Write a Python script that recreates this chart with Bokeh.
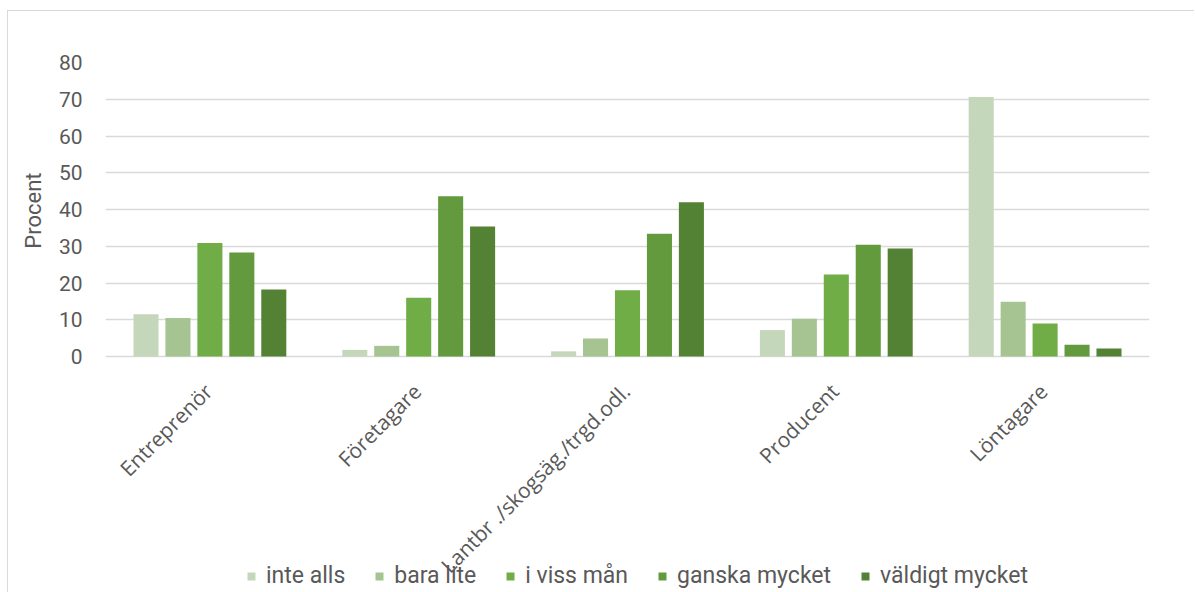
import math
from bokeh.plotting import figure
from bokeh.models import (ColumnDataSource, Legend, LegendItem, Range1d, FixedTicker, Title)
from bokeh.core.properties import value
from bokeh.transform import dodge
from bokeh.embed import file_html
from bokeh.resources import INLINE

categories = ["Entreprenör", "Företagare", "Lantbr ./skogsäg./trgd.odl.", "Producent", "Löntagare"]
series_names = ["inte alls", "bara lite", "i viss mån", "ganska mycket", "väldigt mycket"]
inte_alls = [11.5, 1.8, 1.4, 7.2, 70.6]
bara_lite = [10.5, 2.9, 4.9, 10.3, 14.9]
i_viss_man = [30.9, 16.0, 18.0, 22.3, 9.0]
ganska_mycket = [28.3, 43.6, 33.4, 30.4, 3.2]
valdigt_mycket = [18.2, 35.4, 42.0, 29.4, 2.2]
colors = ["#c5d7bb", "#a5c491", "#70ad47", "#639a3e", "#548235"]
y_ticks = [0, 10, 20, 30, 40, 50, 60, 70, 80]
y_title = "Procent"

ncat = len(categories)
source = ColumnDataSource(dict(cat=categories, xc=[i + 0.5 for i in range(ncat)],
                               s0=inte_alls, s1=bara_lite, s2=i_viss_man,
                               s3=ganska_mycket, s4=valdigt_mycket))

# the value area (0..80) is 294 px tall; the frame continues below it to hold
# the slanted category labels and the legend, which overlap as in the original
plot_px = 294
frame_h = 530
ymax = 80
px_per_unit_y = plot_px / ymax
y_start = -(frame_h - plot_px) / px_per_unit_y

p = figure(x_range=Range1d(0, ncat), y_range=Range1d(y_start, ymax),
           frame_width=1044, frame_height=frame_h, min_border_left=95, min_border_top=51,
           min_border_right=45, min_border_bottom=0,
           output_backend="svg", toolbar_location=None)
p.styles = {"margin-left": "7px", "margin-top": "10px",
            "border-left": "1px solid #d9d9d9", "border-top": "1px solid #d9d9d9"}

step = 0.153
items = []
for i, name in enumerate(series_names):
    r = p.vbar(x=dodge("xc", (i - 2) * step), top=f"s{i}", width=0.12,
               source=source, fill_color=colors[i], line_color=None)
    items.append(LegendItem(label=name, renderers=[r]))

# slanted category labels
p.text(x=dodge("xc", -0.055), y=-21 / px_per_unit_y, text="cat", source=source,
       angle=math.pi / 4, text_align="right", text_baseline="top",
       text_font=value("Open Sans"), text_font_size="21px", text_color="#595959")

p.outline_line_color = None
p.xgrid.grid_line_color = None
p.xaxis.visible = False
p.ygrid.grid_line_color = "#d9d9d9"
p.ygrid.grid_line_width = 1.4

p.yaxis.ticker = FixedTicker(ticks=y_ticks)
p.yaxis.bounds = (0, ymax)
p.yaxis.axis_line_color = None
p.yaxis.major_tick_line_color = None
p.yaxis.minor_tick_line_color = None
p.yaxis.major_label_text_font = "Roboto"
p.yaxis.major_label_text_font_size = "21px"
p.yaxis.major_label_text_color = "#595959"
p.yaxis.major_label_standoff = 17

# axis title placed beside the 0..80 value area
p.add_layout(Title(text=y_title, align="right", offset=110,
                   standoff=20, text_font="Roboto", text_font_size="22px",
                   text_font_style="normal", text_color="#595959"), "left")

legend = Legend(items=items, orientation="horizontal", location=(141, 3),
                glyph_width=10, glyph_height=10, label_standoff=10, spacing=29,
                padding=0, margin=0, border_line_color=None, background_fill_alpha=0,
                label_text_font="Roboto", label_text_font_size="23px",
                label_text_color="#595959")
p.add_layout(legend, "center")

open("out.html", "w").write(file_html(p, INLINE))
